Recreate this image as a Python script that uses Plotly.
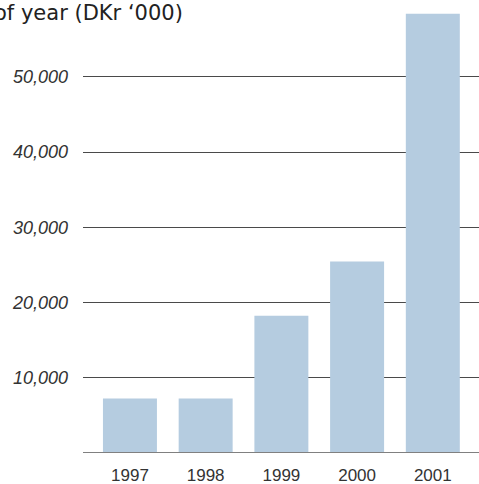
import plotly.graph_objects as go

years = ["1997", "1998", "1999", "2000", "2001"]
values = [7250, 7250, 18250, 25450, 58400]
tick_vals = [10000, 20000, 30000, 40000, 50000]
tick_text = ["10,000", "20,000", "30,000", "40,000", "50,000"]
title_text = "of year (DKr \u2018000)"

fig = go.Figure(go.Bar(x=years, y=values, marker_color="#b5cce0", marker_line_width=0,
                       hoverinfo="skip"))

fig.update_layout(
    width=479, height=484,
    margin=dict(l=83, r=0, t=0, b=30.5, autoexpand=False),
    plot_bgcolor="white", paper_bgcolor="white",
    bargap=0.287,
    showlegend=False,
    hovermode=False,
    font=dict(family="Liberation Sans, Arial, sans-serif", color="#333333", size=16),
)
fig.update_xaxes(range=[-0.62, 4.61], showgrid=False, showline=False, ticks="",
                 ticklabelstandoff=10,
                 tickfont=dict(size=17, color="#333333"), automargin=False)
fig.update_yaxes(range=[0, 60226], tickvals=tick_vals, ticktext=tick_text,
                 showgrid=True, gridcolor="#4a4a4a", gridwidth=1, zeroline=False,
                 showline=False, ticks="", ticklabelstandoff=14,
                 tickfont=dict(size=18, color="#333333", style="italic"), automargin=False)
fig.add_shape(type="line", xref="paper", yref="y", x0=0, x1=1, y0=0, y1=0,
              line=dict(color="#808080", width=2))
fig.add_annotation(text=title_text, xref="paper", yref="paper", x=0.257, y=1,
                   xanchor="right", yanchor="top", showarrow=False, yshift=1,
                   font=dict(family="DejaVu Sans", size=21, color="#222222"))

fig.write_html("out.html", config={"displayModeBar": False},
               post_script="document.body.style.margin='0px';document.body.style.overflow='hidden';")
